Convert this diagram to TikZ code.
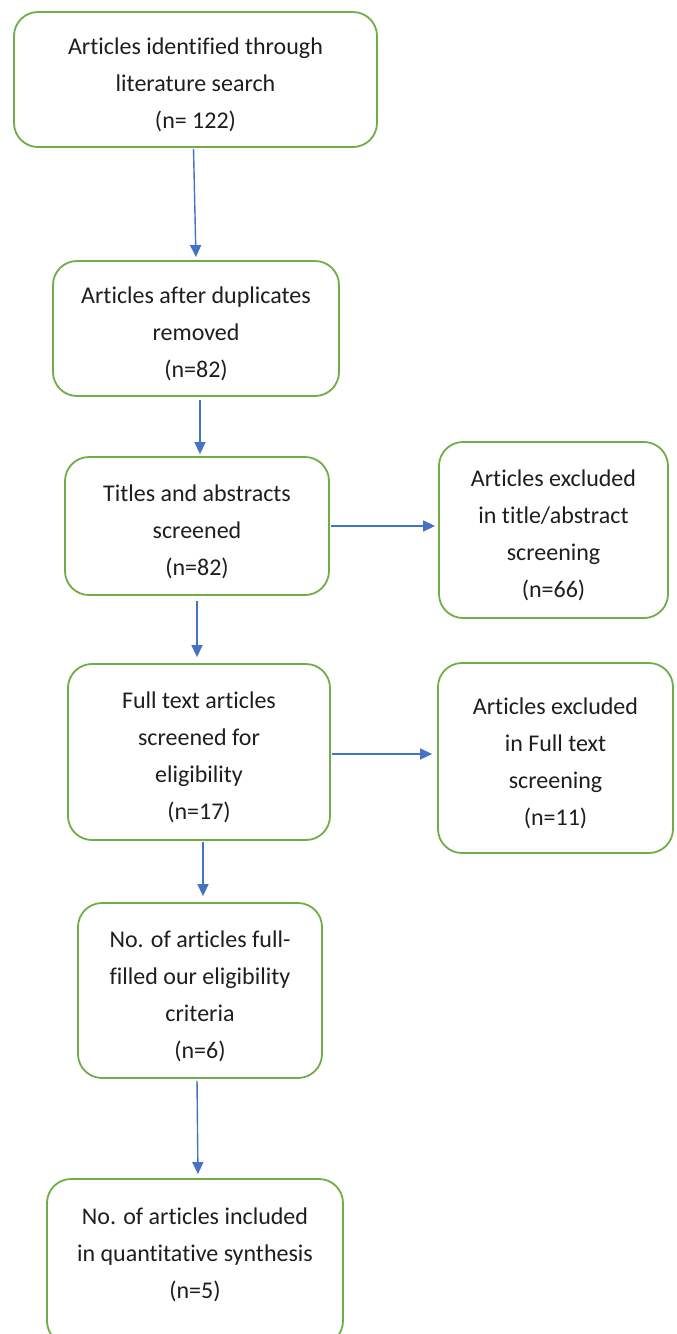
\documentclass[tikz,border=0pt]{standalone}
\usepackage{fontspec}
\setmainfont{Carlito}[Ligatures=NoCommon]
\usetikzlibrary{arrows.meta}
\definecolor{boxgreen}{RGB}{112,173,71}
\definecolor{arrowblue}{RGB}{68,114,196}
\definecolor{txt}{RGB}{30,30,30}
\newcommand\topgap{\rule{0pt}{28pt}}
\begin{document}
\begin{tikzpicture}[x=1pt,y=-1pt,
  flowbox/.style={draw=boxgreen, line width=1.8pt, rounded corners=24pt, inner sep=0pt,
    align=center, text=txt, font=\fontsize{24}{37}\selectfont},
  flowarrow/.style={draw=arrowblue, line width=1.4pt, -{Triangle[length=12pt,width=11pt]}}]
\useasboundingbox (0,0) rectangle (677,1334);
\node[flowbox, minimum width=363pt, minimum height=135pt] (b1) at (195.5,79.5)
  {\topgap Articles identified through\\literature search\\(n= 122)};
\node[flowbox, minimum width=286pt, minimum height=135pt] (b2) at (196,328.5)
  {\topgap Articles after duplicates\\removed\\(n=82)};
\node[flowbox, minimum width=264pt, minimum height=138pt] (b3) at (197,526)
  {\topgap Titles and abstracts\\screened\\(n=82)};
\node[flowbox, minimum width=229pt, minimum height=176pt] (b3r) at (553.5,530)
  {\topgap Articles excluded\\in title/abstract\\screening\\(n=66)};
\node[flowbox, minimum width=262pt, minimum height=176pt] (b4) at (199,752)
  {\topgap Full text articles\\screened for\\eligibility\\(n=17)};
\node[flowbox, minimum width=235pt, minimum height=190pt] (b4r) at (555.5,758)
  {\topgap Articles excluded\\in Full text\\screening\\(n=11)};
\node[flowbox, minimum width=244pt, minimum height=175pt] (b5) at (200,990.5)
  {\topgap No. of articles full-\\filled our eligibility\\criteria\\(n=6)};
\node[flowbox, minimum width=296pt, minimum height=166pt] (b6) at (195,1262)
  {No. of articles included\\in quantitative synthesis\\(n=5)\rule[-18pt]{0pt}{1pt}};
\draw[flowarrow, shorten <=1pt, shorten >=3pt] ([xshift=-2pt]b1.south) -- (b2.north);
\draw[flowarrow, shorten <=3pt, shorten >=2pt] ([xshift=4pt]b2.south) -- ([xshift=4pt]b2.south |- b3.north);
\draw[flowarrow, shorten <=5pt, shorten >=6pt] (b3.south) -- (b3.south |- b4.north);
\draw[flowarrow, shorten <=1pt, shorten >=6pt] ([xshift=4pt]b4.south) -- ([xshift=4pt]b4.south |- b5.north);
\draw[flowarrow, shorten <=2pt, shorten >=4pt] ([xshift=-3pt]b5.south) -- ([xshift=3pt]b6.north);
\draw[flowarrow, shorten <=1pt, shorten >=3pt] (b3.east) -- (b3.east -| b3r.west);
\draw[flowarrow, shorten <=1pt, shorten >=5pt] ([yshift=-2pt]b4.east) -- ([yshift=-2pt]b4.east -| b4r.west);
\end{tikzpicture}
\end{document}
